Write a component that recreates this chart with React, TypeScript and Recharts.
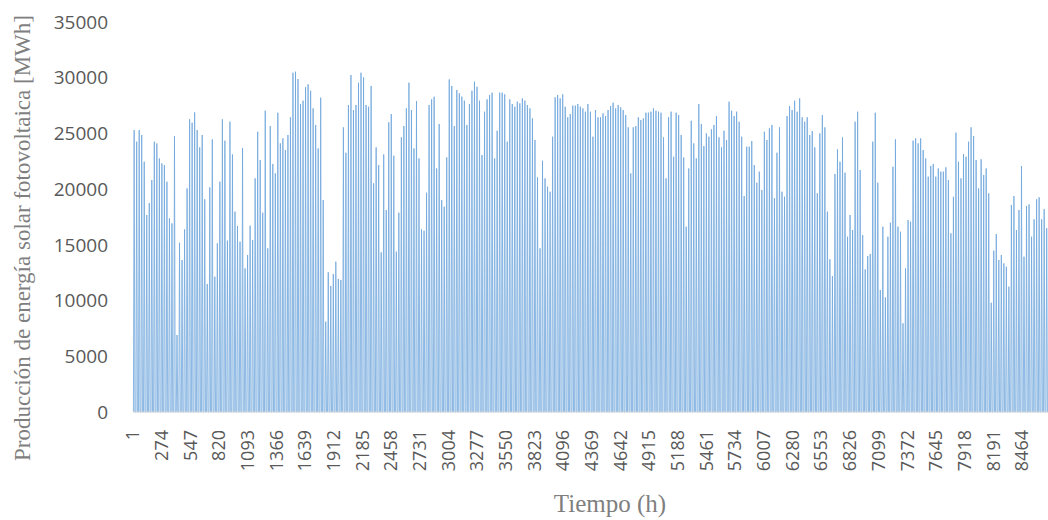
import { Line, LineChart, XAxis, YAxis } from 'recharts';

// daily peak output (MWh), one value per day
const peaksJanFeb = [
  25300, 24260, 25300, 24860, 22460, 17680, 18750, 20820, 24260, 24110, 22760, 22310, 22160, 20670, 17380,
  16930, 24770, 6910, 15190, 13640, 16390, 20070, 26270, 25960, 26890, 25300, 23750, 24860, 19090, 11490,
  20160, 24470, 12140, 15140, 20670, 26270, 24350, 15380, 26050, 23120, 17980, 16690, 15280, 23690, 12890,
  14090, 16720, 15440, 20970, 25150, 22610, 17890, 27040, 14690, 25660, 22260, 21420, 26860, 24110, 24560,
];
const peaksMarApr = [
  23510, 24860, 26450, 30450, 30540, 29880, 27640, 27940, 29140, 29410, 28830, 27250, 25760, 23660, 28210,
  19020, 8100, 12540, 11310, 12380, 13490, 11940, 11850, 25550, 23270, 27550, 30240, 27100, 27550, 29550,
  30450, 30030, 27550, 27400, 29260, 20520, 23750, 22160, 14330, 23120, 18130, 26000, 26740, 23000, 14390,
  17890, 24650, 25660, 27250, 29550, 27100, 23660, 27910, 22760, 16390, 16270, 19680, 27550, 28060, 28300,
  21860,
];
const peaksMayJun = [
  25850, 19020, 18420, 22850, 29850, 29260, 25660, 28900, 28600, 28300, 27940, 25760, 27640, 28830, 29640,
  29190, 27940, 23060, 26950, 28060, 28450, 28660, 22760, 25240, 28660, 28660, 28510, 24260, 28060, 27640,
  27400, 27850, 27700, 28150, 27940, 27550, 27250, 26350, 24410, 21060, 14690, 22550, 20970, 20220, 19770,
  24710, 28240, 28450, 28150, 28510, 27400, 26450, 26740, 27490, 27490, 27640, 27400, 27250, 26950, 27640,
  26950,
];
const peaksJulAug = [
  24710, 27100, 26450, 26450, 26800, 26560, 27100, 27460, 27760, 27250, 27550, 27340, 27100, 26650, 25550,
  21420, 25550, 25660, 26450, 26200, 26350, 26860, 26860, 26950, 27250, 27040, 26950, 26860, 24650, 20970,
  26450, 26950, 22910, 26860, 26650, 24860, 22850, 16630, 21860, 26140, 24110, 22760, 27640, 25850, 23870,
  25010, 24710, 25370, 25760, 26560, 24650, 23750, 25240, 24410, 27850, 27040, 26560, 26950, 26050, 24710,
  19380,
];
const peaksSepOct = [
  23810, 23810, 24320, 22160, 20580, 21570, 19920, 25150, 24410, 25460, 25760, 19180, 23270, 25550, 19770,
  19320, 26560, 27460, 27100, 27940, 26950, 28150, 26450, 26050, 26450, 24860, 25210, 23750, 19630, 25010,
  26650, 25550, 17980, 13700, 12200, 21360, 23570, 22460, 24650, 21480, 15730, 17680, 16330, 26050, 26950,
  21720, 15880, 12800, 14000, 14180, 24260, 26860, 20580, 10950, 16630, 10290, 15730, 16990, 22010, 24470,
  16630,
];
const peaksNovDec = [
  16180, 7960, 12890, 17230, 17080, 24350, 24560, 24110, 24560, 23510, 22760, 21120, 22080, 22260, 21120,
  21860, 21570, 21570, 21960, 20820, 16040, 19320, 25070, 22460, 20970, 23150, 22910, 24260, 25550, 24770,
  22610, 20070, 22680, 21270, 21860, 19630, 9810, 14480, 15970, 13640, 14090, 13340, 13040, 11250, 18580,
  19380, 16330, 18130, 22080, 13940, 18490, 18630, 15730, 17290, 19090, 19270, 17290, 18200, 16500, 19400,
  17100,
];

const xTicks = [
  1, 274, 547, 820, 1093, 1366, 1639, 1912, 2185, 2458, 2731, 3004, 3277, 3550, 3823, 4096, 4369, 4642, 4915,
  5188, 5461, 5734, 6007, 6280, 6553, 6826, 7099, 7372, 7645, 7918, 8191, 8464,
];
const yTicks = [0, 5000, 10000, 15000, 20000, 25000, 30000, 35000];

const dailyPeaks = [
  ...peaksJanFeb,
  ...peaksMarApr,
  ...peaksMayJun,
  ...peaksJulAug,
  ...peaksSepOct,
  ...peaksNovDec,
];

// night hours are zero, each day rises to its peak around midday
const data = dailyPeaks.flatMap((peak, d) => [
  { hour: d * 24 + 5, value: 0 },
  { hour: d * 24 + 12, value: peak },
  { hour: d * 24 + 19, value: 0 },
]);

const tickColor = '#595959';
const titleColor = '#7f7f7f';

function XTick({ x, y, payload }: any) {
  return (
    <text
      x={x}
      y={y}
      dy="0.35em"
      transform={`rotate(-90 ${x} ${y})`}
      textAnchor="end"
      fill={tickColor}
      fontSize={18}
      fontFamily="'Open Sans', sans-serif"
    >
      {payload.value}
    </text>
  );
}

export default function App() {
  return (
    <div
      style={{
        position: 'absolute',
        left: 0,
        top: 0,
        width: 1048,
        height: 520,
        overflow: 'hidden',
        background: '#fff',
      }}
    >
      <LineChart
        width={1053}
        height={520}
        data={data}
        margin={{ top: 22, right: 0, bottom: 0, left: 0 }}
      >
        <XAxis
          dataKey="hour"
          type="number"
          domain={[1, 8760]}
          ticks={xTicks}
          interval={0}
          height={108}
          tickLine={false}
          tickMargin={12}
          axisLine={{ stroke: '#d9d9d9', strokeWidth: 1 }}
          tick={<XTick />}
        />
        <YAxis
          type="number"
          domain={[0, 35000]}
          ticks={yTicks}
          width={133}
          axisLine={false}
          tickLine={false}
          tickMargin={19}
          tick={{ fontSize: 19, fill: tickColor, fontFamily: "'Open Sans', sans-serif" }}
        />
        <Line
          type="linear"
          dataKey="value"
          stroke="#6FA6DC"
          strokeWidth={0.8}
          dot={false}
          isAnimationActive={false}
        />
      </LineChart>
      <div
        style={{
          position: 'absolute',
          left: 23 - 260,
          top: 238 - 14,
          width: 520,
          height: 28,
          lineHeight: '28px',
          textAlign: 'center',
          transform: 'rotate(-90deg)',
          fontFamily: "'Liberation Serif', serif",
          fontSize: 23,
          color: titleColor,
          whiteSpace: 'nowrap',
        }}
      >
        Producción de energía solar fotovoltaica [MWh]
      </div>
      <div
        style={{
          position: 'absolute',
          left: 610 - 100,
          top: 491,
          width: 200,
          lineHeight: '25px',
          textAlign: 'center',
          fontFamily: "'Liberation Serif', serif",
          fontSize: 25,
          color: titleColor,
        }}
      >
        Tiempo (h)
      </div>
    </div>
  );
}
